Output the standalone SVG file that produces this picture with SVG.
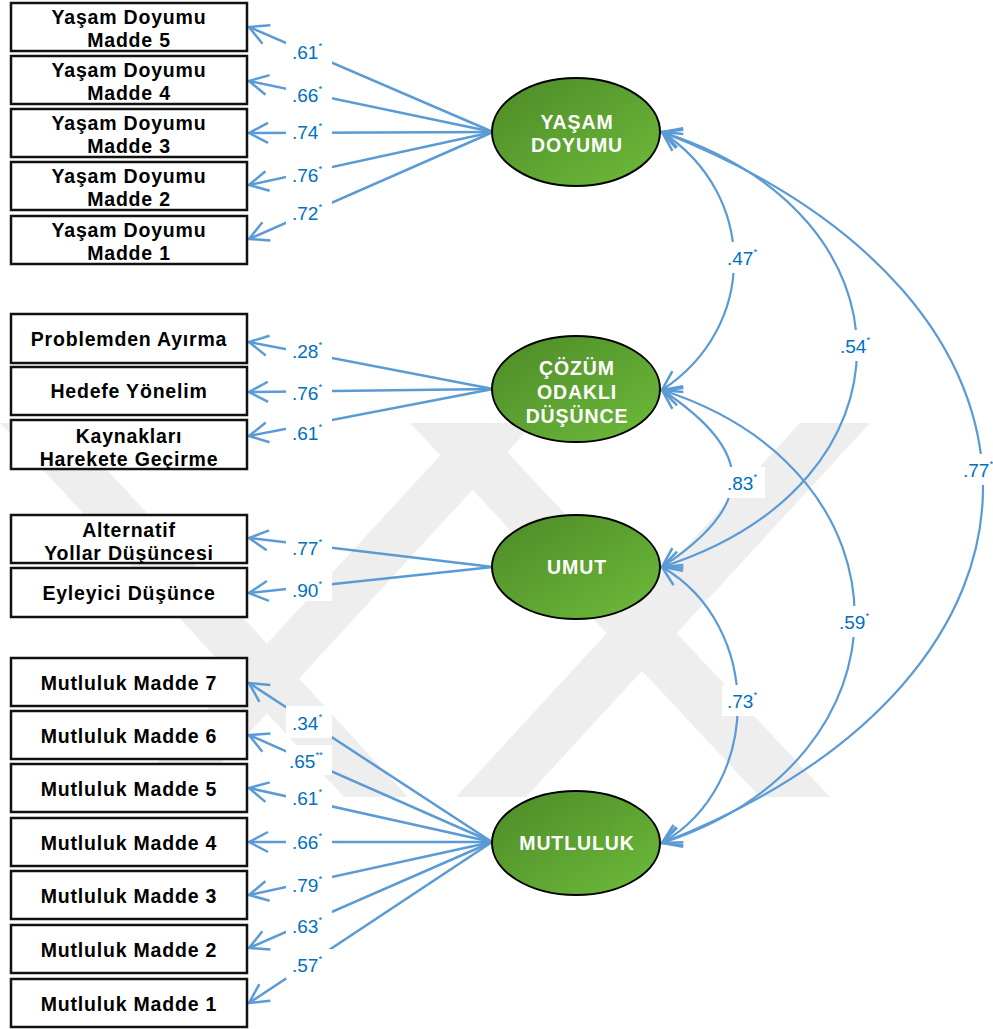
<svg xmlns="http://www.w3.org/2000/svg" width="993" height="1029" viewBox="0 0 993 1029">
  <defs>
    <linearGradient id="green" x1="0" y1="0" x2="1" y2="1">
      <stop offset="0" stop-color="#4d8a27"/>
      <stop offset="1" stop-color="#6dbb3b"/>
    </linearGradient>
    <marker id="ah" viewBox="-24 -14 28 28" refX="0" refY="0" markerWidth="28" markerHeight="28" markerUnits="userSpaceOnUse" orient="auto-start-reverse">
      <path d="M-19,-10 L0,0 L-19,10" fill="none" stroke="#5b9bd5" stroke-width="2.5"/>
    </marker>
    <style>
      .box { fill: #ffffff; stroke: #111111; stroke-width: 2.5; }
      .bt { font-family: "Liberation Sans", Arial, sans-serif; font-weight: bold; font-size: 19.5px; letter-spacing: 0.8px; fill: #000000; text-anchor: middle; }
      .lat { fill: url(#green); stroke: #000000; stroke-width: 2; }
      .lt { font-family: "Liberation Sans", Arial, sans-serif; font-weight: bold; font-size: 19.5px; letter-spacing: 0.9px; fill: #ffffff; text-anchor: middle; }
      .ln { stroke: #5b9bd5; stroke-width: 2.5; fill: none; marker-end: url(#ah); }
      .cv { stroke: #5b9bd5; stroke-width: 2.2; fill: none; marker-start: url(#ah); marker-end: url(#ah); }
      .lbg { fill: #ffffff; }
      .lb { font-family: "Liberation Sans", Arial, sans-serif; font-size: 19px; fill: #0070c0; }
      .st { font-size: 9.5px; }
      .wm { fill: #eeeeee; }
    </style>
  </defs>

  <!-- faint background emblem -->
  <g id="emblem">
    <polygon class="wm" points="0,423 64,423 408,797 344,797"/>
    <polygon class="wm" points="470,423 534,423 190,797 126,797"/>
    <polygon class="wm" points="410,423 480,423 830,797 760,797"/>
    <polygon class="wm" points="800,423 870,423 526,797 456,797"/>
  </g>

  <!-- connectors -->
  <g id="connectors">
    <!-- YAŞAM DOYUMU loadings -->
    <line class="ln" x1="493" y1="132" x2="249" y2="27"/>
    <line class="ln" x1="493" y1="132" x2="249" y2="81"/>
    <line class="ln" x1="493" y1="132" x2="249" y2="133"/>
    <line class="ln" x1="493" y1="132" x2="249" y2="185"/>
    <line class="ln" x1="493" y1="132" x2="249" y2="239"/>
    <!-- ÇÖZÜM ODAKLI DÜŞÜNCE loadings -->
    <line class="ln" x1="493" y1="389" x2="249" y2="342"/>
    <line class="ln" x1="493" y1="389" x2="249" y2="392"/>
    <line class="ln" x1="493" y1="389" x2="249" y2="436"/>
    <!-- UMUT loadings -->
    <line class="ln" x1="493" y1="567" x2="249" y2="538"/>
    <line class="ln" x1="493" y1="567" x2="249" y2="593"/>
    <!-- MUTLULUK loadings -->
    <line class="ln" x1="492" y1="842" x2="249" y2="683"/>
    <line class="ln" x1="492" y1="842" x2="249" y2="735"/>
    <line class="ln" x1="492" y1="842" x2="249" y2="788"/>
    <line class="ln" x1="492" y1="842" x2="249" y2="842"/>
    <line class="ln" x1="492" y1="842" x2="249" y2="895"/>
    <line class="ln" x1="492" y1="842" x2="249" y2="948"/>
    <line class="ln" x1="492" y1="842" x2="249" y2="1003"/>
    <!-- correlations -->
    <path class="cv" d="M662,132 C758,195 758,327 662,390"/>
    <path class="cv" d="M662,132 C922,215 922,484 662,567"/>
    <path class="cv" d="M662,132 C1090,300 1090,675 662,843"/>
    <path class="cv" d="M662,390 C756,452 756,505 662,567"/>
    <path class="cv" d="M662,390 C919,473 919,760 662,843"/>
    <path class="cv" d="M662,567 C763,625 763,785 662,843"/>
  </g>

  <!-- coefficient labels -->
  <g id="labels">
    <rect class="lbg" x="286" y="36" width="46" height="30"/>
    <text class="lb" x="292" y="59">.61<tspan class="st" dy="-10">*</tspan></text>
    <rect class="lbg" x="286" y="79" width="46" height="30"/>
    <text class="lb" x="292" y="102">.66<tspan class="st" dy="-10">*</tspan></text>
    <rect class="lbg" x="286" y="116" width="46" height="30"/>
    <text class="lb" x="292" y="139">.74<tspan class="st" dy="-10">*</tspan></text>
    <rect class="lbg" x="286" y="159" width="46" height="30"/>
    <text class="lb" x="292" y="182">.76<tspan class="st" dy="-10">*</tspan></text>
    <rect class="lbg" x="286" y="197" width="46" height="30"/>
    <text class="lb" x="292" y="220">.72<tspan class="st" dy="-10">*</tspan></text>

    <rect class="lbg" x="286" y="335" width="46" height="30"/>
    <text class="lb" x="292" y="358">.28<tspan class="st" dy="-10">*</tspan></text>
    <rect class="lbg" x="286" y="377" width="46" height="30"/>
    <text class="lb" x="292" y="400">.76<tspan class="st" dy="-10">*</tspan></text>
    <rect class="lbg" x="286" y="417" width="46" height="30"/>
    <text class="lb" x="292" y="440">.61<tspan class="st" dy="-10">*</tspan></text>

    <rect class="lbg" x="286" y="531" width="46" height="31"/>
    <text class="lb" x="292" y="555">.77<tspan class="st" dy="-10">*</tspan></text>
    <rect class="lbg" x="286" y="570" width="46" height="31"/>
    <text class="lb" x="292" y="597">.90<tspan class="st" dy="-10">*</tspan></text>

    <rect class="lbg" x="286" y="706" width="46" height="32"/>
    <text class="lb" x="292" y="730">.34<tspan class="st" dy="-10">*</tspan></text>
    <rect class="lbg" x="286" y="745" width="46" height="30"/>
    <text class="lb" x="289" y="768">.65<tspan class="st" dy="-10">**</tspan></text>
    <rect class="lbg" x="286" y="782" width="46" height="30"/>
    <text class="lb" x="292" y="805">.61<tspan class="st" dy="-10">*</tspan></text>
    <rect class="lbg" x="286" y="826" width="46" height="30"/>
    <text class="lb" x="292" y="849">.66<tspan class="st" dy="-10">*</tspan></text>
    <rect class="lbg" x="286" y="869" width="46" height="30"/>
    <text class="lb" x="292" y="892">.79<tspan class="st" dy="-10">*</tspan></text>
    <rect class="lbg" x="286" y="910" width="46" height="30"/>
    <text class="lb" x="292" y="933">.63<tspan class="st" dy="-10">*</tspan></text>
    <rect class="lbg" x="286" y="949" width="46" height="30"/>
    <text class="lb" x="292" y="972">.57<tspan class="st" dy="-10">*</tspan></text>

    <rect class="lbg" x="722" y="242" width="43" height="31"/>
    <text class="lb" x="727" y="265">.47<tspan class="st" dy="-10">*</tspan></text>
    <rect class="lbg" x="835" y="330" width="43" height="31"/>
    <text class="lb" x="840" y="353">.54<tspan class="st" dy="-10">*</tspan></text>
    <rect class="lbg" x="958" y="454" width="35" height="31"/>
    <text class="lb" x="963" y="477">.77<tspan class="st" dy="-10">*</tspan></text>
    <rect class="lbg" x="722" y="467" width="43" height="31"/>
    <text class="lb" x="727" y="490">.83<tspan class="st" dy="-10">*</tspan></text>
    <rect class="lbg" x="834" y="606" width="43" height="31"/>
    <text class="lb" x="839" y="629">.59<tspan class="st" dy="-10">*</tspan></text>
    <rect class="lbg" x="722" y="685" width="43" height="31"/>
    <text class="lb" x="727" y="708">.73<tspan class="st" dy="-10">*</tspan></text>
  </g>

  <!-- observed indicators -->
  <g id="yd5"><rect class="box" x="11" y="3" width="236" height="48"/><text class="bt" x="129" y="24">Yaşam Doyumu</text><text class="bt" x="129" y="47">Madde 5</text></g>
  <g id="yd4"><rect class="box" x="11" y="56" width="236" height="48"/><text class="bt" x="129" y="77">Yaşam Doyumu</text><text class="bt" x="129" y="100">Madde 4</text></g>
  <g id="yd3"><rect class="box" x="11" y="109" width="236" height="48"/><text class="bt" x="129" y="130">Yaşam Doyumu</text><text class="bt" x="129" y="153">Madde 3</text></g>
  <g id="yd2"><rect class="box" x="11" y="162" width="236" height="48"/><text class="bt" x="129" y="183">Yaşam Doyumu</text><text class="bt" x="129" y="206">Madde 2</text></g>
  <g id="yd1"><rect class="box" x="11" y="216" width="236" height="48"/><text class="bt" x="129" y="237">Yaşam Doyumu</text><text class="bt" x="129" y="260">Madde 1</text></g>

  <g id="problemden"><rect class="box" x="11" y="314" width="236" height="49"/><text class="bt" x="129" y="346">Problemden Ayırma</text></g>
  <g id="hedefe"><rect class="box" x="11" y="367" width="236" height="48"/><text class="bt" x="129" y="398">Hedefe Yönelim</text></g>
  <g id="kaynaklari"><rect class="box" x="11" y="420" width="236" height="49"/><text class="bt" x="129" y="443">Kaynakları</text><text class="bt" x="129" y="466">Harekete Geçirme</text></g>

  <g id="alternatif"><rect class="box" x="11" y="515" width="236" height="48"/><text class="bt" x="129" y="537">Alternatif</text><text class="bt" x="129" y="560">Yollar Düşüncesi</text></g>
  <g id="eyleyici"><rect class="box" x="11" y="568" width="236" height="49"/><text class="bt" x="129" y="600">Eyleyici Düşünce</text></g>

  <g id="m7"><rect class="box" x="11" y="658" width="236" height="48"/><text class="bt" x="129" y="690">Mutluluk Madde 7</text></g>
  <g id="m6"><rect class="box" x="11" y="711" width="236" height="48"/><text class="bt" x="129" y="743">Mutluluk Madde 6</text></g>
  <g id="m5"><rect class="box" x="11" y="764" width="236" height="48"/><text class="bt" x="129" y="796">Mutluluk Madde 5</text></g>
  <g id="m4"><rect class="box" x="11" y="818" width="236" height="48"/><text class="bt" x="129" y="850">Mutluluk Madde 4</text></g>
  <g id="m3"><rect class="box" x="11" y="871" width="236" height="48"/><text class="bt" x="129" y="903">Mutluluk Madde 3</text></g>
  <g id="m2"><rect class="box" x="11" y="925" width="236" height="48"/><text class="bt" x="129" y="957">Mutluluk Madde 2</text></g>
  <g id="m1"><rect class="box" x="11" y="979" width="236" height="48"/><text class="bt" x="129" y="1011">Mutluluk Madde 1</text></g>

  <!-- latent factors -->
  <g id="yasam-doyumu"><ellipse class="lat" cx="576" cy="132" rx="84" ry="54"/><text class="lt" x="577" y="129">YAŞAM</text><text class="lt" x="577" y="152">DOYUMU</text></g>
  <g id="cozum-odakli"><ellipse class="lat" cx="576" cy="389" rx="84" ry="53"/><text class="lt" x="577" y="375">ÇÖZÜM</text><text class="lt" x="577" y="399">ODAKLI</text><text class="lt" x="577" y="423">DÜŞÜNCE</text></g>
  <g id="umut"><ellipse class="lat" cx="576" cy="567" rx="84" ry="52"/><text class="lt" x="577" y="574">UMUT</text></g>
  <g id="mutluluk"><ellipse class="lat" cx="576" cy="843" rx="84" ry="52"/><text class="lt" x="577" y="850">MUTLULUK</text></g>
</svg>
